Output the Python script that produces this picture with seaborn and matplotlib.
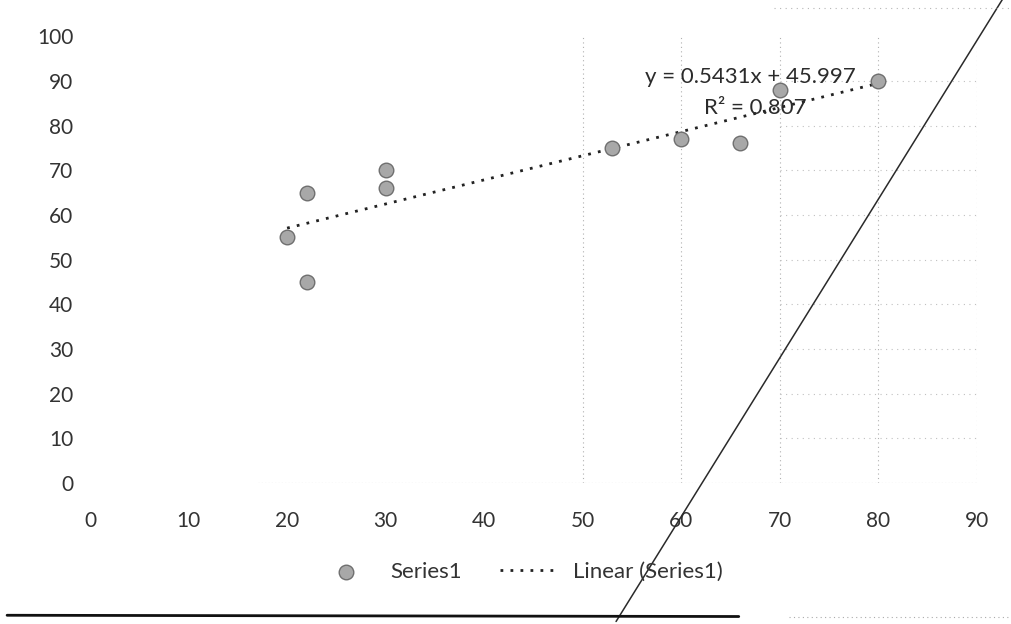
import numpy as np
import pandas as pd
import matplotlib.pyplot as plt
import seaborn as sns
from matplotlib.lines import Line2D

# Values
x_vals = [20, 22, 22, 30, 30, 53, 60, 66, 70, 80]
y_vals = [55, 65, 45, 70, 66, 75, 77, 76, 88, 90]
x_ticks = list(range(0, 100, 10))
y_ticks = list(range(0, 110, 10))
trend_label = "y = 0.5431x + 45.997"
r2_label = "R² = 0.807"

# pen stroke drawn over the printout (two end points, data units)
pen_x = [53.4, 92.7]
pen_y = [-31, 108.5]

df = pd.DataFrame({"x": x_vals, "y": y_vals})

sns.set_style("white")
plt.rcParams['font.family'] = ['Lato', 'DejaVu Sans']

fig = plt.figure(figsize=(10.12, 6.24), dpi=100)
ax = fig.add_axes([0.089, 0.226, 0.876, 0.716])

# faint show-through grid from the scan
ax.vlines([50, 60, 70, 80, 90], 0, 100, colors='#b0b0b0', linestyles=(0, (1, 3)), lw=0.8)
ax.hlines(y_ticks[1:10], 70, 90, colors='#c0c0c0', linestyles=(0, (1, 4)), lw=0.8)
ax.hlines(0, 17, 90, colors='#a0a0a0', linestyles=(0, (1, 2)), lw=0.8)

sns.regplot(data=df, x="x", y="y", scatter=False, ci=None, ax=ax,
            line_kws=dict(color='#222222', lw=2, ls=(0, (1, 2.6))))
trend_line = ax.lines[-1]
trend_line.set_label("Linear (Series1)")
sns.scatterplot(data=df, x="x", y="y", ax=ax, s=110, color='#a8a8a8',
                edgecolor='#6f6f6f', linewidth=1, label="Series1", zorder=3)
points = ax.collections[-1]

ax.plot(pen_x, pen_y, color='#2a2a2a', lw=1.1, clip_on=False, zorder=4)

ax.text(67.0, 90.8, trend_label, ha='center', va='center', fontsize=16, color='#2b2b2b')
ax.text(67.5, 84.0, r2_label, ha='center', va='center', fontsize=16, color='#2b2b2b')

ax.set_xlim(0, 90)
ax.set_ylim(0, 100)
ax.set_xticks(x_ticks)
ax.set_yticks(y_ticks)
ax.tick_params(axis='both', length=0, labelsize=15, labelcolor='#333333')
ax.tick_params(axis='x', pad=20)
ax.tick_params(axis='y', pad=12)
ax.set_xlabel("")
ax.set_ylabel("")
for s in ax.spines.values():
    s.set_visible(False)

if ax.get_legend():
    ax.get_legend().remove()
fig.legend([points, trend_line], ["Series1", "Linear (Series1)"],
           loc='center', bbox_to_anchor=(0.514, 0.083), ncol=2, frameon=False,
           fontsize=16, handlelength=2.6, handletextpad=0.7, columnspacing=1.7,
           labelcolor='#333333')

# page edge at the bottom of the scan, frame remnant at the top
fig.add_artist(Line2D([0.007, 0.73], [0.014, 0.012], color='#111111', lw=2))
fig.add_artist(Line2D([0.78, 1.0], [0.011, 0.011], color='#aaaaaa', lw=0.8, ls=(0, (1, 3))))
fig.add_artist(Line2D([0.765, 1.0], [0.987, 0.987], color='#b5b5b5', lw=0.8, ls=(0, (1, 4))))

fig.savefig("out.png", dpi=100)
